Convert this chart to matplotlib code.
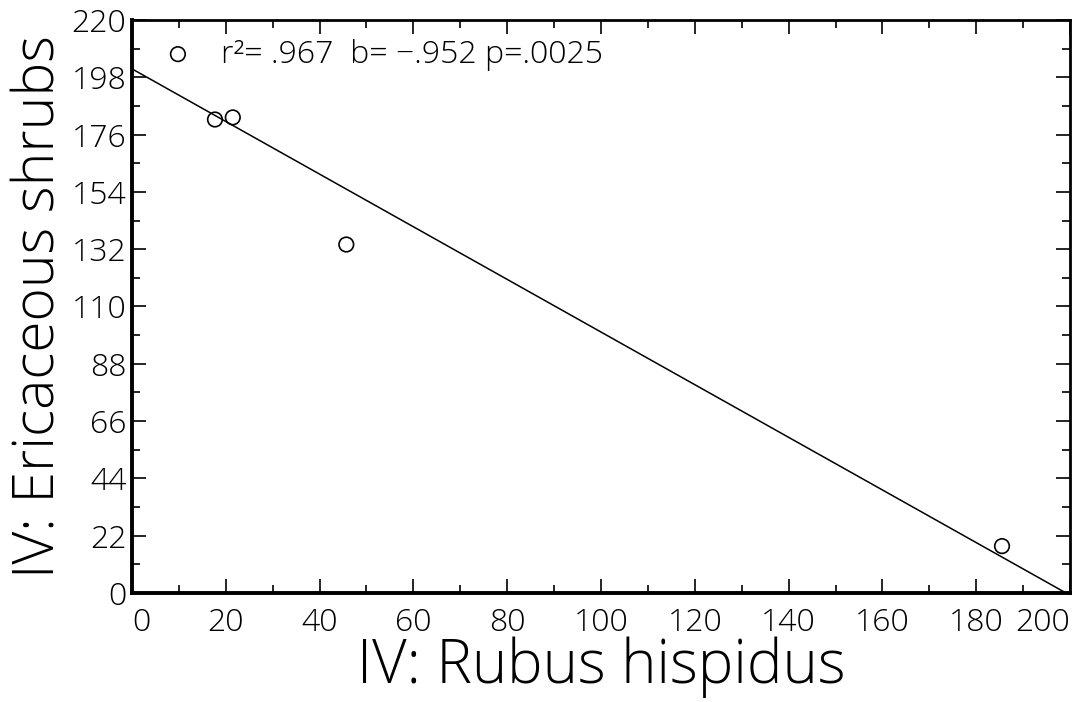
import numpy as np
import matplotlib
matplotlib.use("Agg")
import matplotlib.pyplot as plt
from matplotlib.ticker import MultipleLocator
from matplotlib import font_manager as fm

# Data
rubus = [9.8, 17.7, 21.5, 45.7, 185.5]
ericaceous = [206.9, 181.8, 182.6, 133.8, 18.0]
x_ticks = [0, 20, 40, 60, 80, 100, 120, 140, 160, 180, 200]
y_ticks = [0, 22, 44, 66, 88, 110, 132, 154, 176, 198, 220]
stats_text = "r²= .967  b= \u2212.952 p=.0025"

# pick a light sans font if available
family, weight = 'DejaVu Sans', 'normal'
for fam in ['Open Sans', 'Lato', 'Roboto', 'Inter', 'Noto Sans']:
    ws = [f.weight for f in fm.fontManager.ttflist if f.name == fam]
    ws = [w if isinstance(w, int) else 400 for w in ws]
    if any(w <= 300 for w in ws):
        family, weight = fam, 300
        break
plt.rcParams['font.family'] = [family, 'DejaVu Sans']
plt.rcParams['font.weight'] = weight
plt.rcParams['axes.labelweight'] = weight

fig = plt.figure(figsize=(10.78, 7.02), dpi=100)
ax = fig.add_axes([0.1224, 0.1553, 0.8702, 0.8162])

ax.scatter(rubus, ericaceous, s=110, facecolors='none', edgecolors='black',
           linewidths=1.2, zorder=3)

slope, intercept = np.polyfit(rubus, ericaceous, 1)
x_end = -intercept / slope
ax.plot([0, x_end], [intercept, intercept + slope * x_end], color='black', lw=1.1)

ax.set_xlim(0, 200)
ax.set_ylim(0, 220)
ax.set_xticks(x_ticks)
ax.set_yticks(y_ticks)
ax.xaxis.set_minor_locator(MultipleLocator(10))
ax.yaxis.set_minor_locator(MultipleLocator(11))
ax.tick_params(which='both', direction='in', top=True, right=True, width=1.2)
ax.tick_params(which='major', length=10, labelsize=23)
ax.tick_params(axis='x', which='major', pad=10)
ax.tick_params(axis='y', which='major', pad=4)
ax.tick_params(which='minor', length=6)

labels = ax.get_xticklabels()
labels[0].set_horizontalalignment('left')
labels[-1].set_horizontalalignment('right')

for side in ['left', 'bottom']:
    ax.spines[side].set_linewidth(2.8)
for side in ['top', 'right']:
    ax.spines[side].set_linewidth(2.0)

ax.text(18.9, 206.5, stats_text, fontsize=23, va='center', ha='left',
        fontweight=weight)

ax.set_xlabel("IV: Rubus hispidus", fontsize=43, labelpad=-2, fontweight=weight)
ax.set_ylabel("IV: Ericaceous shrubs", fontsize=41, labelpad=2, fontweight=weight)

fig.savefig("out.png", dpi=100)
